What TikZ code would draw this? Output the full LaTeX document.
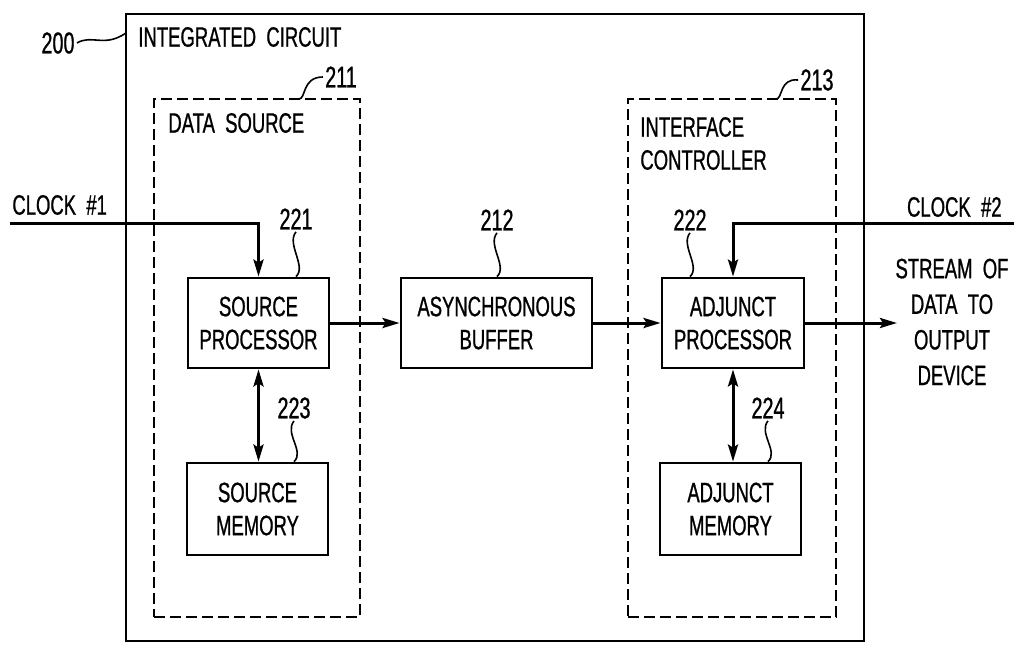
\documentclass[tikz,border=0pt]{standalone}
\usepackage{fontspec}
\setmainfont{Liberation Sans}[FakeStretch=0.66,FakeBold=0.8]
\usetikzlibrary{arrows.meta}
\begin{document}
\begin{tikzpicture}[x=0.5pt,y=-0.5pt,
  every node/.style={font=\fontsize{14}{16.5}\selectfont},
  blk/.style={draw,line width=1.4pt,align=center,inner sep=0pt,minimum height=45pt},
  grp/.style={draw,line width=1.1pt,dash pattern=on 5.5pt off 2.5pt,inner sep=0pt},
  ttl/.style={inner sep=0pt},
  lbl/.style={inner sep=1pt,font=\fontsize{15}{18}\selectfont},
  wire/.style={line width=1.5pt},
  arr/.style={wire,-{Stealth[length=8.5pt,width=5pt,inset=1.5pt]}},
  darr/.style={wire,{Stealth[length=8.5pt,width=5pt,inset=1.5pt]}-{Stealth[length=8.5pt,width=5pt,inset=1.5pt]}},
  lead/.style={line width=0.8pt}]
\useasboundingbox (0,0) rectangle (1014,644);

% containers
\node[draw,line width=1.3pt,minimum width=369pt,minimum height=313.5pt,inner sep=0pt] (chip) at (495,327.5) {};
\node[grp,minimum width=103pt,minimum height=259pt] (ds) at (257,358) {};
\node[grp,minimum width=104pt,minimum height=259pt] (ifc) at (732,358) {};

% blocks
\node[blk,minimum width=70.5pt] (sp) at (258.5,323) {SOURCE\\PROCESSOR};
\node[blk,minimum width=95.5pt] (buf) at (496.5,323) {ASYNCHRONOUS\\BUFFER};
\node[blk,minimum width=71pt] (ap) at (733,323) {ADJUNCT\\PROCESSOR};
\node[blk,minimum width=70.5pt,minimum height=46pt] (sm) at (257.5,509) {SOURCE\\MEMORY};
\node[blk,minimum width=70.5pt,minimum height=46pt] (am) at (730.5,509) {ADJUNCT\\MEMORY};

% titles
\node[ttl,anchor=west] (tic) at (138,37) {INTEGRATED\ \ CIRCUIT};
\node[ttl,anchor=west] (tds) at (168,123) {DATA\ \ SOURCE};
\node[ttl,anchor=west,align=left] (tif) at (640,143.5) {INTERFACE\\CONTROLLER};
\node[ttl,anchor=west] (tc1) at (12,205) {CLOCK\ \ \#1};
\node[ttl,anchor=east] (tc2) at (1002,207) {CLOCK\ \ \#2};
\node[ttl,align=center,font=\fontsize{14}{17.8}\selectfont] (tout) at (952,322) {STREAM\ \ OF\\DATA\ \ TO\\OUTPUT\\DEVICE};

% reference numerals
\node[lbl] (n200) at (58,43) {200};
\node[lbl] (n211) at (341,77) {211};
\node[lbl] (n213) at (817,80) {213};
\node[lbl] (n221) at (296,219) {221};
\node[lbl] (n212) at (497,220) {212};
\node[lbl] (n222) at (690,220) {222};
\node[lbl] (n223) at (294,408) {223};
\node[lbl] (n224) at (768,408) {224};

% connectors
\coordinate (c1) at (10,223);
\coordinate (c2) at (1014,223);
\coordinate (o) at (897,323);
\draw[arr] (c1) -| (sp.north);
\draw[arr] (c2) -| (ap.north);
\draw[arr] (sp.east) -- (buf.west);
\draw[arr] (buf.east) -- (ap.west);
\draw[arr] (ap.east) -- (o);
\draw[darr] (sp.south) -- (sp.south |- sm.north);
\draw[darr] (ap.south) -- (ap.south |- am.north);

% leaders
\draw[lead] (n221.south) .. controls +(-10,12) and +(11,-10) .. (n221.south |- sp.north);
\draw[lead] (n212.south) .. controls +(-10,12) and +(11,-10) .. (n212.south |- buf.north);
\draw[lead] (n222.south) .. controls +(-10,12) and +(11,-10) .. (n222.south |- ap.north);
\draw[lead] (n223.south) .. controls +(-10,12) and +(11,-10) .. (n223.south |- sm.north);
\draw[lead] (n224.south) .. controls +(-10,12) and +(11,-10) .. (n224.south |- am.north);
\coordinate (k211) at (299,99);
\coordinate (k213) at (776,99);
\coordinate (k200) at (126,33);
\draw[lead] (k211) .. controls (306,99) and (302,77) .. (n211.west);
\draw[lead] (k213) .. controls (783,99) and (779,78) .. (n213.west);
\draw[lead] (n200.east) .. controls (92,34) and (104,48) .. (k200);
\end{tikzpicture}
\end{document}
